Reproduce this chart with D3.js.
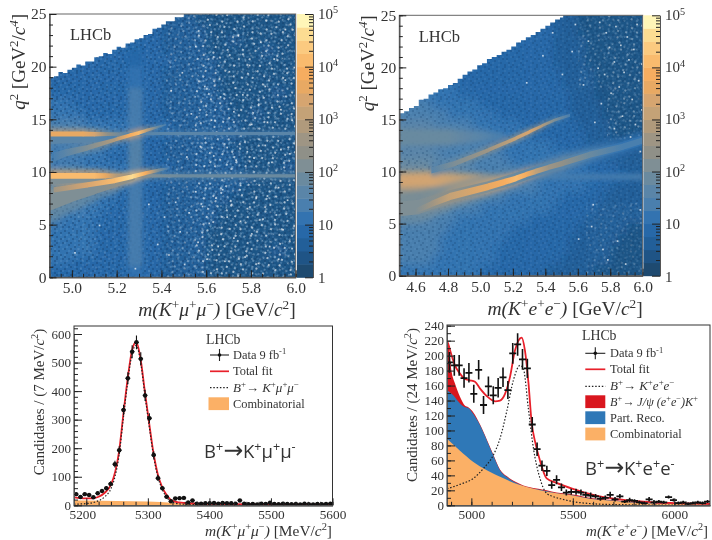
<!DOCTYPE html>
<html><head><meta charset="utf-8">
<script src="https://cdn.jsdelivr.net/npm/d3@7"></script>
<style>
html,body{margin:0;padding:0;background:#fff}
svg{display:block;filter:blur(0.4px)}
text{fill:#333;font-family:"Liberation Serif",serif}
.minor text{display:none}
</style></head><body><svg id="c" width="712" height="540"></svg>
<script>
// ---------- colour palette of the z axis (one band per quarter decade)
const zBandColours=["#1e4a70","#1f5486","#225f99","#2768a8","#3373b0","#4a7fae","#5a85a8","#6a8a9f","#7f8f95","#8f9088","#9e9584","#b09a7c","#c4a277","#d6a570","#e8a963","#f6ad60","#f9bb6e","#fbca80","#fcdc92","#fff6b8"];
const zTicks=[1,10,100,1000,10000,100000];
const zLabels=["1","10","10|2","10|3","10|4","10|5"];
// ---------- bin-to-bin grain of the maps: d darker bin, l lighter bin
const grainTile=["d..l.d...l..d.l.","..d...l.d...d..d",".l..d....l.d..l.","d...l.d.d...l...","..d...d..l.d..d.",".l.d.l....d...l.","d.....d.l...d...","..l.d...d.l...dl",".d...l.d...d.l..","l..d.....l..d..d","..d..l.d...d..l.",".l...d...l...d..","d..d...l.d.l...l","..l..d.....d.d..",".d..l..d.l...l..","l...d.l...d...d."];
// x full empty bin, y bin with low count
const emptyTile=["......y.........x...y...","..x.........y.........y.","y.....x...........x.....","....y.......x...y.......",".x.......y..........x...","......x.........y.....y.","..y.........x...........","..........y.....x..y....","x....y.............x....","........x....y........y.","...y.......x.......y....",".y......y........x......","......x.....y........x..","..x...........y.........","y.........x.......y.....",".....y...........x....y.","...x....y...x...........","..........y.........x...","y....x............y.....","........y...x.....x...y.","..y...........y.........",".......x.....y.....x....","....y......x...........y",".x.........y....y.......",];
// ---------- top-left map: m(K mu mu) vs q2
const muMassTicks=[5.0,5.2,5.4,5.6,5.8,6.0];
const muEdgeMass=[[4.9,19],[4.92,19.1],[4.94,19.5],[4.96,19.4],[4.98,19.7],[5.0,19.9],[5.02,20.2],[5.04,20.1],[5.06,20.5],[5.08,20.5],[5.1,20.9],[5.12,21],[5.14,21.3],[5.16,21.2],[5.18,21.6],[5.2,21.9],[5.22,21.8],[5.24,22.2],[5.26,22.3],[5.28,22.6],[5.3,22.7],[5.32,23],[5.34,23.1],[5.36,23.6],[5.38,23.7],[5.4,24],[5.42,24.3],[5.44,24.3],[5.46,24.7],[5.48,24.7],[5.5,25],[6,25]];
const muBase=[
"3333333333222111111111","3333333333222211111111","3333333333222211211111","3333333333222211111211","3333333333322221111111",
"3333333333222221111111","3333333333222221111111","3333333333222221111121","4433333333222222111111","4443333333222222112111",
"5554444433322222211111","6555544433322222211111","5555544333222222111111","5444433333222222211111","5554444433322222211112",
"6655554443322222221111","7766554333222222211111","7765443333222222111111","6554433333222221111111","5444333333222221111111",
"4444333333222211111111","4444333333222211111111","4444333333222211111121","4433333333222211111111","3333333333222211111111"];
const muStrip=[[0,1,4],[1,9,5],[9,14,6],[14,18,5],[18,20,4],[20,21.5,3]];
const muSpeckleZones=[[5.55,6,0,25,.75],[5.42,5.55,0,25,.4],[5.0,5.42,0,7,.1],[4.9,5.42,14,25,.07]];
const muRidgeLowGlow=[[4.9,7.3,8,1.0],[5.0,7.9,8,.75],[5.1,8.4,8,.55],[5.2,8.95,9,.35],[5.28,9.5,9,.25]];
const muRidgeLow=[[4.92,8.3,10,.25],[5.07,8.77,13,.25],[5.19,9.18,16,.25],[5.27,9.56,18,.22],[5.33,9.9,15,.18],[5.385,10.15,8,.15],[5.43,10.35,5,.1]];
const muRidgeUp=[[4.92,11.4,5,.45],[4.97,11.8,6,.35],[5.07,12.3,8,.25],[5.19,13.05,11,.18],[5.26,13.5,15,.18],[5.3,13.72,16,.18],[5.33,13.93,12,.16],[5.38,14.25,7,.12],[5.42,14.5,5,.08]];
const muJpsi=[[4.9,9.63,16,.27],[5.1,9.63,16,.27],[5.15,9.63,14,.25],[5.2,9.63,11,.2],[5.3,9.63,9,.17],[5.36,9.63,8,.16],[5.5,9.63,7,.16],[6,9.63,7,.16]];
const muPsi2S=[[4.9,13.6,14,.24],[5.05,13.6,14,.24],[5.1,13.58,13,.22],[5.16,13.6,9,.18],[5.25,13.6,6,.14],[5.4,13.65,6,.14],[6,13.65,6,.14]];
const muFaint=[[4.9,13.1,6,.45],[5.1,13.15,6,.3],[5.2,13.2,5,.2]];
const muFaintLow=[[4.9,9.1,8,.3],[5.1,9.25,8,.2],[5.2,9.4,7,.12]];
const muEmpty=[5.01,2.4,5.12,5,5.28,0.9,5.34,7,5.38,3.2,5.41,5.8,5.43,2.2,5.44,17.8,5.46,7.2,5.48,4.4,5.49,19.5,5.5,1.3,5.51,11.5,5.52,6.2,5.53,15.6,5.55,8.2,5.55,22,5.56,3.4,5.57,12.5,5.58,6.8,5.59,18.2,5.6,1.8,5.61,5.2,5.62,15,5.63,11.6,5.63,21,5.64,7.6,5.65,3,5.66,17.2,5.67,8.4,5.68,1.6,5.69,5.8,5.69,12.4,5.7,19.6,5.71,7,5.72,3.8,5.72,15.8,5.73,11.2,5.74,23,5.75,8.8,5.75,5.4,5.76,17.4,5.77,2,5.78,12,5.78,6.6,5.79,20.2,5.8,14.6,5.8,4.2,5.81,11.4,5.82,7.6,5.83,16.4,5.83,1.4,5.84,22.4,5.85,5.6,5.86,18.2,5.86,12.6,5.87,14.8,5.87,7.8,5.88,3,5.89,11,5.89,16.2,5.9,20.8,5.91,6,5.92,8.6,5.92,1.8,5.93,16,5.93,12.2,5.94,4.6,5.95,18.8,5.95,23.6,5.96,7.4,5.97,11.8,5.98,15,5.98,2.8,5.99,20];
// ---------- top-right map: m(K e e) vs q2
const eeMassTicks=[4.6,4.8,5.0,5.2,5.4,5.6,5.8,6.0];
const eeEdgeMass=[[4.5,15.6],[4.53,15.8],[4.56,16.1],[4.59,16.3],[4.62,16.9],[4.65,17],[4.68,17.4],[4.71,17.6],[4.74,17.9],[4.77,18],[4.8,18.3],[4.83,18.5],[4.86,18.9],[4.89,19.3],[4.92,19.6],[4.95,19.8],[4.98,20.2],[5.01,20.4],[5.04,20.8],[5.07,21],[5.1,21.2],[5.13,21.5],[5.16,21.7],[5.19,22],[5.22,22.4],[5.25,22.6],[5.28,22.9],[5.31,23.1],[5.34,23.4],[5.37,23.7],[5.4,24],[5.43,24.3],[5.46,24.6],[5.49,24.8],[5.51,25],[6,25]];
const eeBase=[
"444433333333333333322211111111","444433333333333333322211111111","444433333333333333322221111111","444443333333333333322221111111","444443333333333333322221111111",
"444443333333333333332222111111","444444433333333333332222111111","444444433333333333333222111111","555544444433333333333222211111","555555444444333333333222211111",
"666655555444444333333322221111","666666655554444433333332221111","666655555555444444433332222111","666665555555544444444333322222","777766666555554444444443333222",
"888877766655555554444444333322","888877766655555554444443332222","888877665555544444443333322222","777766555544444444433333222222","666655544444444433333332222222",
"555555444444443333333322222211","555554444444433333333222222111","555554444444333333333222221111","555544444444333333332222221111","444444444433333333222222111111"];
const eeSpeckleZones=[[5.78,6,13,25,.4],[5.6,5.78,18,25,.3],[5.65,6,0,7,.22]];
const eeRidgeLowGlow=[[4.5,6.4,8,.7],[4.62,6.6,8,.7],[4.81,7.6,9,.6],[5.05,8.55,8,.55],[5.22,9.35,7,.55],[5.34,10,6,.5],[5.51,10.8,6,.5],[5.67,11.6,5,.45],[5.88,12.4,4,.45],[6,13,4,.45]];
const eeRidgeLow=[[4.6,6.2,8,.25],[4.7,6.9,10,.3],[4.81,7.6,12,.35],[5.05,8.55,14,.33],[5.15,9,15,.3],[5.22,9.35,16,.28],[5.28,9.7,15,.26],[5.34,10,12,.26],[5.42,10.4,10,.26],[5.51,10.8,9,.28],[5.67,11.6,7,.3],[5.88,12.4,5,.3],[6,13,5,.3]];
const eeRidgeUp=[[4.7,10.1,6,.3],[4.85,10.8,8,.25],[5.05,12.07,10,.2],[5.22,13.2,12,.18],[5.3,13.8,13,.16],[5.38,14.4,11,.14],[5.45,14.9,8,.14],[5.55,15.4,5,.14]];
const eeJpsi=[[4.5,9.1,13,.62],[4.7,9.2,13,.6],[4.9,9.15,12,.52],[5.05,9.2,12,.42],[5.14,9.35,11,.28],[5.2,9.5,7,.2],[5.5,9.5,5,.2],[6,9.5,5,.25]];
const eeWedge=[[4.5,7.2,9,1.1],[4.65,7.6,9,.9],[4.8,8.1,8,.5],[5,8.2,7,.25]];
const eePsi2S=[[4.5,13.3,7,.8],[4.8,13.3,7,.7],[5.0,13.35,6,.5],[5.15,13.4,5,.3]];
const eeEmpty=[5.28,18.6,5.38,21.2,5.44,23.4,5.5,19.4,5.56,21.6,5.58,24.2,5.6,3.6,5.63,18.4,5.66,22.6,5.68,4.8,5.69,6.9,5.7,14.8,5.72,20,5.73,24.4,5.74,16.6,5.75,2.6,5.76,19.4,5.77,23.4,5.78,1.6,5.79,22,5.8,17.6,5.82,14.2,5.82,20.6,5.83,24,5.84,3.4,5.85,18.2,5.86,22.2,5.87,15.4,5.88,19.6,5.89,1.2,5.9,23,5.91,20.8,5.92,13.4,5.93,17,5.94,21.8,5.95,14.6,5.96,24.2,5.97,18.8,5.98,12,5.98,6.4,5.99,16,5.99,20.4];
// ---------- bottom-left fit
const bmMass=[5183.5,5190.5,5197.5,5204.5,5211.5,5218.5,5225.5,5232.5,5239.5,5246.5,5253.5,5260.5,5267.5,5274.5,5281.5,5288.5,5295.5,5302.5,5309.5,5316.5,5323.5,5330.5,5337.5,5344.5,5351.5,5358.5,5365.5,5372.5,5379.5,5386.5,5393.5,5400.5,5407.5,5414.5,5421.5,5428.5,5435.5,5442.5,5449.5,5456.5,5463.5,5470.5,5477.5,5484.5,5491.5,5498.5,5505.5,5512.5,5519.5,5526.5,5533.5,5540.5,5547.5,5554.5,5561.5,5568.5,5575.5,5582.5,5589.5,5596.5];
const bmCounts=[39,29,39,36,28,42,50,60,75,144,193,334,445,538,571,513,385,305,176,95,60,30,14,24,25,26,10,17,6,6,7,7,8,6,8,7,7,6,17,6,4,5,3,6,5,9,5,4,6,5,4,5,3,6,4,3,5,4,5,6];
const bmErrors=[6,5,6,6,5,6,7,8,9,12,14,18,21,23,24,23,20,17,13,10,8,5,4,5,5,5,3,4,2,2,3,3,3,2,3,3,3,2,4,2,2,2,2,2,2,3,2,2,2,2,2,2,2,2,2,2,2,2,2,2];
const bmTotalMass=[5180,5190,5200,5210,5220,5230,5240,5247,5253,5260,5267,5274,5281,5288,5295,5302,5309,5316,5323,5330,5337,5344,5351,5360,5380,5400,5500,5600];
const bmTotal=[28,25,24,24,30,44,72,118,185,315,440,540,572,515,400,290,185,110,65,38,20,13,10,8,6,5,3,2];
const bmSignalMass=[5180,5200,5215,5230,5240,5247,5253,5260,5267,5274,5281,5288,5295,5302,5309,5316,5323,5330,5337,5344,5351,5365,5400,5600];
const bmSignal=[4,6,12,30,58,104,172,302,428,528,560,505,390,280,176,102,58,30,14,8,5,3,1,0];
const bmCombMass=[5180,5200,5250,5300,5340,5370,5400,5500,5600];
const bmComb=[18,17,15,13,9,6,3,2,1];
// ---------- bottom-right fit
const beMass=[4892,4916,4940,4964,4988,5012,5036,5060,5084,5108,5132,5156,5180,5204,5228,5252,5276,5300,5324,5348,5372,5396,5420,5444,5468,5492,5516,5540,5564,5588,5612,5636,5660,5684,5708,5732,5756,5780,5804,5828,5852,5876,5900,5924,5948,5972,5996,6020,6044,6068,6092,6116,6140,6164];
const beCounts=[191,187,187,170,177,149,181,134,159,147,157,171,154,203,215,195,183,108,75,53,46,27,34,24,17,18,18,17,14,13,12,9,10,14,8,12,5,7,6,4,3,8,4,5,4,11,7,3,4,2,3,4,3,5];
const beErrors=[14,14,14,13,13,12,13,12,13,12,13,13,12,14,15,14,13,10,9,7,7,5,6,5,4,4,4,4,4,4,3,3,3,4,3,3,2,3,2,2,2,3,3,2,2,2,2,2,2,2,2,2,2,2];
const beTotalMass=[4880,4888,4903,4919,4944,4967,4993,5018,5043,5076,5117,5141,5166,5190,5215,5232,5248,5264,5281,5297,5314,5338,5371,5420,5500,5600,5700,5800,5900,6000,6176];
const beTotal=[220,214,200,187,176,169,167,165,156,146,139,140,149,171,207,220,224,207,165,111,85,60,36,30,22,14,9,6,4,3,2];
const beSignalMass=[4880,4944,5010,5059,5108,5141,5174,5207,5240,5256,5281,5306,5338,5371,5400,5450,5500,5600,5700,6176];
const beSignal=[22,28,36,49,67,89,125,167,187,183,129,76,36,16,12,8,5,2,1,0];
const beCombMass=[4880,4944,5010,5076,5158,5240,5371,5500,5600,5700,5800,5900,6000,6176];
const beComb=[89,73,58,47,36,27,18,13,8,6,3.5,2.5,2,1];
const beRecoMass=[4880,4911,4944,4969,4985,5010,5043,5076,5108,5141,5174,5240,5371,5420,5500,5600,5700,5800,5900,6000,6176];
const beReco=[154,147,136,131,130,122,107,87,67,47,38,27.5,19,16,13.5,8.5,6.3,3.8,2.8,2.2,1.2];
const beRedMass=[4880,4888,4903,4919,4944,4969,4985,5010,5043,5076,5108,5141,5174,5240,5371,5420,5500,5600,5700,5800,5900,6000,6176];
const beRed=[222,214,178,163,145,133,131,124,108,88,68,48,39,28.5,20,17,14.5,9.5,7,4.5,3.5,2.8,1.8];

const svg=d3.select("#c");
let uid=0;
function rich(t,parts,size){
  let back=0;
  parts.forEach(([s,f])=>{
    const ts=t.append("tspan").text(s);
    const shift=f&&f.includes("s")?-size*.38:0;
    ts.attr("dy",shift-back);back=shift;
    ts.attr("font-size",shift?size*.68:size);
    if(f&&f.includes("i"))ts.attr("font-style","italic");
    if(f&&f.includes("a"))ts.attr("font-size",size*1.28).style("font-family","'DejaVu Sans',sans-serif");
  });
  return t;
}
function styleAxis(g){g.selectAll("path").attr("stroke","#555");g.selectAll("line").attr("stroke","#222");}
function pairs(flat){return d3.range(0,flat.length,2).map(i=>[flat[i],flat[i+1]]);}
function tilePattern(defs,id,rows,cell,fills,turn){
  const n=rows.length,m=rows[0].length;
  const p=defs.append("pattern").attr("id",id).attr("patternUnits","userSpaceOnUse").attr("width",m*cell).attr("height",n*cell);
  if(turn)p.attr("patternTransform",`rotate(${turn})`);
  rows.forEach((r,j)=>r.split("").forEach((c,i)=>{
    if(fills[c])p.append("rect").attr("x",i*cell).attr("y",j*cell).attr("width",cell).attr("height",cell).attr("fill",fills[c][0]).attr("opacity",fills[c][1]);
  }));
}

function heatMap(o){
  const x=d3.scaleLinear().domain(o.massDomain).range([o.l,o.r]);
  const y=d3.scaleLinear().domain([0,25]).range([o.b,o.t]);
  const colour=d=>zBandColours[Math.max(0,Math.min(19,Math.round(d)))];
  const root=svg.append("g");
  const cid="clip"+(++uid),fid="blur"+uid,fidG="blurg"+uid,fid2="blurb"+uid;
  const defs=root.append("defs");
  const area=d3.area().x(d=>x(d[0])).y0(o.b).y1(d=>y(d[1])).curve(d3.curveStepAfter);
  defs.append("clipPath").attr("id",cid).append("path").attr("d",area(o.edge));
  const blurDef=(id,s)=>defs.append("filter").attr("id",id).attr("filterUnits","userSpaceOnUse").attr("x",o.l-30).attr("y",o.t-30).attr("width",o.r-o.l+60).attr("height",o.b-o.t+60).append("feGaussianBlur").attr("stdDeviation",s);
  blurDef(fid,5);blurDef(fidG,2.2);blurDef(fid2,.75);
  const grainId="grain"+uid,emptyId="empty"+uid,emptyId2="emptyb"+uid;
  tilePattern(defs,grainId,grainTile,2,{d:["#0f3560",.32],l:["#7fb0dc",.16]});
  tilePattern(defs,emptyId,emptyTile,2,{x:["#fff",.8],y:["#bcd6ee",.4]},23);
  tilePattern(defs,emptyId2,emptyTile,1.6,{x:["#dce9f5",.6],y:["#9cc0e2",.3]},-38);
  const plot=root.append("g").attr("clip-path",`url(#${cid})`);
  const base=plot.append("g").attr("filter",`url(#${fid})`);
  const rows=o.base,step=0.05;
  rows.forEach((row,ri)=>{
    const q=24-ri;
    row.split("").forEach((c,ci)=>{
      const m=o.massDomain[0]+ci*step;
      const pl=ci==0?25:0,pr=ci==row.length-1?25:0,pt=ri==0?25:0,pb=ri==rows.length-1?25:0;
      base.append("rect").attr("x",x(m)-pl).attr("y",y(q+1)-pt)
        .attr("width",x(m+step)-x(m)+pl+pr+.6).attr("height",y(q)-y(q+1)+pt+pb+.6)
        .attr("fill",colour(+c));
    });
  });
  plot.append("rect").attr("x",o.l).attr("y",o.t).attr("width",o.r-o.l).attr("height",o.b-o.t).attr("fill",`url(#${grainId})`).attr("opacity",o.grain);
  // sparse bins where the count falls to zero
  o.zones.forEach(([m0,m1,q0,q1,op])=>{
    [emptyId,emptyId2].forEach(id=>plot.append("rect").attr("x",x(m0)).attr("width",x(m1)-x(m0)).attr("y",y(q1)).attr("height",y(q0)-y(q1)).attr("fill",`url(#${id})`).attr("opacity",op));
  });
  const glow=plot.append("g").attr("filter",`url(#${fidG})`);
  const marks=plot.append("g").attr("filter",`url(#${fid2})`);
  if(o.strip)o.strip.forEach(([a,b,l])=>{
    glow.append("rect").attr("x",x(5.252)).attr("width",x(5.315)-x(5.252))
      .attr("y",y(b)).attr("height",y(a)-y(b)).attr("fill",colour(l)).attr("opacity",.85);
  });
  const ridge=(layer,pts,k,op)=>{
    d3.pairs(pts).forEach(([p,q])=>{
      const gid="g"+(++uid);
      const g=defs.append("linearGradient").attr("id",gid).attr("gradientUnits","userSpaceOnUse")
        .attr("x1",x(p[0])).attr("x2",x(q[0])).attr("y1",0).attr("y2",0);
      g.append("stop").attr("offset",0).attr("stop-color",colour(k>1?p[2]-1:p[2]));
      g.append("stop").attr("offset",1).attr("stop-color",colour(k>1?q[2]-1:q[2]));
      layer.append("path").attr("fill",`url(#${gid})`).attr("opacity",op).attr("d",
        d3.line()([[x(p[0])-.3,y(p[1]+p[3]*k)],[x(q[0])+.3,y(q[1]+q[3]*k)],[x(q[0])+.3,y(q[1]-q[3]*k)],[x(p[0])-.3,y(p[1]-p[3]*k)]])+"Z");
    });
  };
  o.soft.forEach(r=>{ridge(glow,r,1.6,.5);ridge(glow,r,1,.9);});
  o.ridges.forEach(r=>{ridge(glow,r,2.2,.55);ridge(marks,r,1,1);});
  plot.append("g").selectAll("rect").data(pairs(o.empty)).join("rect")
    .attr("x",d=>x(d[0])).attr("y",d=>y(d[1])).attr("width",1.7).attr("height",1.7).attr("fill","#fff").attr("opacity",.7);
  // frame and axes
  root.append("rect").attr("x",o.l).attr("y",o.t).attr("width",o.r-o.l).attr("height",o.b-o.t).attr("fill","none").attr("stroke","#666").attr("stroke-width",1);
  const ax=root.append("g");
  ax.append("g").attr("transform",`translate(0,${o.b})`)
    .call(d3.axisBottom(x).tickValues(o.massTicks).tickFormat(d3.format(".1f")).tickSizeInner(-7).tickSizeOuter(0).tickPadding(5)).call(styleAxis)
    .attr("font-family",null).attr("font-size",15.5);
  ax.append("g").attr("class","minor").attr("transform",`translate(0,${o.b})`)
    .call(d3.axisBottom(x).ticks(o.minorCount).tickFormat("").tickSizeInner(-3.5).tickSizeOuter(0)).call(styleAxis);
  ax.append("g").attr("transform",`translate(${o.l},0)`)
    .call(d3.axisLeft(y).tickValues(d3.range(0,26,5)).tickSizeInner(-7).tickSizeOuter(0).tickPadding(3)).call(styleAxis)
    .attr("font-family",null).attr("font-size",o.yFont);
  ax.append("g").attr("class","minor").attr("transform",`translate(${o.l},0)`)
    .call(d3.axisLeft(y).tickValues(d3.range(0,26,1)).tickFormat("").tickSizeInner(-3.5).tickSizeOuter(0)).call(styleAxis);
  ax.selectAll(".tick text").attr("fill","#333");
  // titles
  rich(root.append("text").attr("transform",`translate(${o.yTitleX},${o.t}) rotate(-90)`).attr("text-anchor","end"),
    [["q","i"],["2","s"],[" [GeV",""],["2","s"],["/",""],["c","i"],["4","is"],["]",""]],o.yTitleSize);
  rich(root.append("text").attr("x",o.r).attr("y",o.xTitleY).attr("text-anchor","end"),o.xTitle,o.xTitleSize);
  root.append("text").attr("x",o.lhcbX).attr("y",o.lhcbY).attr("font-size",16.5).text("LHCb");
  // colour bar
  const z=d3.scaleLog().domain([1,1e5]).range([o.b,o.t]);
  const bar=root.append("g");
  zBandColours.forEach((c,i)=>{
    const v0=Math.pow(10,i/4),v1=Math.pow(10,(i+1)/4);
    bar.append("rect").attr("x",o.barL).attr("width",o.barR-o.barL).attr("y",z(v1)).attr("height",z(v0)-z(v1)+.5).attr("fill",c);
  });
  const barAx=d3.axisRight(z).tickValues(zTicks).tickFormat("").tickSizeInner(-8).tickSizeOuter(0);
  bar.append("g").attr("transform",`translate(${o.barR},0)`).call(barAx).call(styleAxis);
  const minorVals=[];zTicks.slice(0,5).forEach(t=>d3.range(2,10).forEach(k=>minorVals.push(t*k)));
  bar.append("g").attr("class","minor").attr("transform",`translate(${o.barR},0)`)
    .call(d3.axisRight(z).tickValues(minorVals).tickFormat("").tickSizeInner(-4).tickSizeOuter(0)).call(styleAxis);
  zLabels.forEach((s,i)=>{
    const [a,b]=s.split("|");
    const t=bar.append("text").attr("x",o.barR+5).attr("y",z(zTicks[i])+(i==0?6:5));
    rich(t,b?[[a,""],[b,"s"]]:[[a,""]],15);
  });
}

heatMap({massDomain:[4.9,6.0],l:49.5,r:295.7,t:14,b:277.3,edge:muEdgeMass,base:muBase,strip:muStrip,zones:muSpeckleZones,grain:1,soft:[],
  ridges:[muRidgeLowGlow,muFaint,muFaintLow,muPsi2S,muJpsi,muRidgeUp,muRidgeLow],empty:muEmpty,massTicks:muMassTicks,minorCount:22,
  yFont:15.5,yTitleX:25,yTitleSize:19,xTitleY:316,xTitleSize:19.5,lhcbX:70,lhcbY:40,barL:297,barR:313,
  xTitle:[["m(K","i"],["+","s"],["μ","i"],["+","s"],["μ","i"],["−","s"],[")","i"],[" [GeV/",""],["c","i"],["2","s"],["]",""]]});
heatMap({massDomain:[4.5,6.0],l:399.3,r:642.7,t:15.3,b:275.7,edge:eeEdgeMass,base:eeBase,strip:null,zones:eeSpeckleZones,grain:.65,soft:[eePsi2S,eeWedge,eeJpsi],
  ridges:[eeRidgeLowGlow,eeRidgeUp,eeRidgeLow],empty:eeEmpty,massTicks:eeMassTicks,minorCount:30,
  yFont:15.5,yTitleX:374,yTitleSize:19,xTitleY:315,xTitleSize:19.5,lhcbX:418.7,lhcbY:41.7,barL:643.5,barR:660,
  xTitle:[["m(K","i"],["+","s"],["e","i"],["+","s"],["e","i"],["−","s"],[")","i"],[" [GeV/",""],["c","i"],["2","s"],["]",""]]});

function legendLabel(g,x,y,parts,size){rich(g.append("text").attr("x",x).attr("y",y),parts,size);}
function decay(g,x,y,parts,size){
  const t=g.append("text").attr("x",x).attr("y",y).style("font-family","'Open Sans','Noto Sans',sans-serif");
  rich(t,parts,size);
}
function fitPanel(o){
  const x=d3.scaleLinear().domain(o.xDomain).range([o.l,o.r]);
  const y=d3.scaleLinear().domain(o.yDomain).range([o.y0,o.yTop]);
  const root=svg.append("g");
  const cid="clip"+(++uid);
  root.append("defs").append("clipPath").attr("id",cid).append("rect").attr("x",o.l).attr("y",o.frameTop).attr("width",o.r-o.l).attr("height",o.y0-o.frameTop);
  const plot=root.append("g").attr("clip-path",`url(#${cid})`);
  const areaOf=(m,v)=>d3.area().x((_,i)=>x(m[i])).y0(o.y0).y1(d=>y(d)).curve(d3.curveMonotoneX)(v);
  const lineOf=(m,v)=>d3.line().x((_,i)=>x(m[i])).y(d=>y(d)).curve(d3.curveMonotoneX)(v);
  o.areas.forEach(a=>plot.append("path").attr("d",areaOf(a.m,a.v)).attr("fill",a.c));
  plot.append("path").attr("d",lineOf(o.totalM,o.total)).attr("fill","none").attr("stroke","#e8202a").attr("stroke-width",1.8);
  plot.append("path").attr("d",lineOf(o.sigM,o.sig)).attr("fill","none").attr("stroke","#222").attr("stroke-width",1.2).attr("stroke-dasharray","1.5 1.8");
  const pts=plot.append("g").selectAll("g").data(o.m).join("g");
  pts.append("line").attr("x1",d=>x(d)).attr("x2",d=>x(d)).attr("y1",(d,i)=>y(o.n[i]-o.e[i])).attr("y2",(d,i)=>y(o.n[i]+o.e[i])).attr("stroke","#111").attr("stroke-width",o.lw);
  pts.append("line").attr("x1",d=>x(d)-o.cap/2).attr("x2",d=>x(d)+o.cap/2).attr("y1",(d,i)=>y(o.n[i])).attr("y2",(d,i)=>y(o.n[i])).attr("stroke","#111").attr("stroke-width",o.lw+.2);
  pts.append("circle").attr("cx",d=>x(d)).attr("cy",(d,i)=>y(o.n[i])).attr("r",o.dot).attr("fill","#111");
  root.append("rect").attr("x",o.l).attr("y",o.frameTop).attr("width",o.r-o.l).attr("height",o.y0+.5-o.frameTop).attr("fill","none").attr("stroke","#333").attr("stroke-width",1);
  const xg=root.append("g").attr("transform",`translate(0,${o.y0})`);
  xg.call(d3.axisBottom(x).tickValues(o.xTicks).tickFormat(d3.format("d")).tickSizeInner(-7).tickSizeOuter(0).tickPadding(4.5)).call(styleAxis).attr("font-family",null).attr("font-size",13.3);
  xg.selectAll(".tick text").attr("fill","#333");
  if(o.firstDx)xg.select(".tick text").attr("dx",o.firstDx);
  root.append("g").attr("class","minor").attr("transform",`translate(0,${o.y0})`)
    .call(d3.axisBottom(x).tickValues(o.xMinor).tickFormat("").tickSizeInner(-3.5).tickSizeOuter(0)).call(styleAxis);
  const yg=root.append("g").attr("transform",`translate(${o.l},0)`);
  yg.call(d3.axisLeft(y).tickValues(o.yTicks).tickSizeInner(-8).tickSizeOuter(0).tickPadding(3)).call(styleAxis).attr("font-family",null).attr("font-size",13);
  yg.selectAll(".tick text").attr("fill","#333");
  root.append("g").attr("class","minor").attr("transform",`translate(${o.l},0)`)
    .call(d3.axisLeft(y).tickValues(o.yMinor).tickFormat("").tickSizeInner(-4).tickSizeOuter(0)).call(styleAxis);
  rich(root.append("text").attr("transform",`translate(${o.yTitleX},${o.yTitleC}) rotate(-90)`).attr("text-anchor","middle"),o.yTitle,15);
  rich(root.append("text").attr("x",o.xTitleR).attr("y",o.xTitleY).attr("text-anchor","end"),o.xTitle,o.xTitleSize);
  // legend
  const L=o.legend,g=root.append("g");
  g.append("text").attr("x",L.x).attr("y",L.titleY).attr("font-size",13.8).text("LHCb");
  L.rows.forEach(r=>{
    if(r.kind=="data"){
      g.append("line").attr("x1",L.x1).attr("x2",L.x2).attr("y1",r.y).attr("y2",r.y).attr("stroke","#222").attr("stroke-width",1.1);
      g.append("line").attr("x1",(L.x1+L.x2)/2).attr("x2",(L.x1+L.x2)/2).attr("y1",r.y-6).attr("y2",r.y+6).attr("stroke","#222").attr("stroke-width",1.1);
      g.append("circle").attr("cx",(L.x1+L.x2)/2).attr("cy",r.y).attr("r",1.8).attr("fill","#111");
    }else if(r.kind=="line"){
      g.append("line").attr("x1",L.x1).attr("x2",L.x2).attr("y1",r.y).attr("y2",r.y).attr("stroke","#e8202a").attr("stroke-width",1.7);
    }else if(r.kind=="dots"){
      g.append("line").attr("x1",L.x1).attr("x2",L.x2).attr("y1",r.y).attr("y2",r.y).attr("stroke","#222").attr("stroke-width",1.2).attr("stroke-dasharray","1.5 1.8");
    }else{
      g.append("rect").attr("x",L.x1-(r.pad||0)).attr("y",r.y-6.4).attr("width",L.x2-L.x1+(r.pad||0)).attr("height",12.8).attr("fill",r.c);
    }
    legendLabel(g,L.tx,r.y+4,r.parts,r.size||12.4);
  });
  decay(g,L.decayX,L.decayY,o.decay,L.decaySize);
}
const data9=[["Data 9 fb",""],["-1","s"]];
fitPanel({xDomain:[5180,5600],yDomain:[0,600],l:74,r:332.5,y0:505.3,yTop:334,frameTop:326,
  m:bmMass,n:bmCounts,e:bmErrors,cap:4.6,lw:1.1,dot:2.2,firstDx:-4,xTitleSize:15.4,
  areas:[{m:bmCombMass,v:bmComb,c:"#fbb066"}],totalM:bmTotalMass,total:bmTotal,sigM:bmSignalMass,sig:bmSignal,
  xTicks:[5200,5300,5400,5500,5600],xMinor:d3.range(5180,5601,20),yTicks:[0,100,200,300,400,500,600],yMinor:d3.range(0,621,20),
  yTitleX:44,yTitleC:402,xTitleR:332,xTitleY:536,
  yTitle:[["Candidates / (7 MeV/",""],["c","i"],["2","s"],[")",""]],
  xTitle:[["m(K","i"],["+","s"],["μ","i"],["+","s"],["μ","i"],["−","s"],[")","i"],[" [MeV/",""],["c","i"],["2","s"],["]",""]],
  decay:[["B",""],["+","s"],["→","a"],["K",""],["+","s"],["μ",""],["+","s"],["μ",""],["-","s"]],
  legend:{x:206,titleY:344,x1:210,x2:229,tx:233,decayX:204,decayY:458,decaySize:18.5,rows:[
    {kind:"data",y:355,parts:data9},{kind:"line",y:371.3,parts:[["Total fit",""]]},
    {kind:"dots",y:387.7,size:13,parts:[["B","i"],["+","s"],["→ K","i"],["+","s"],["μ","i"],["+","s"],["μ","i"],["−","s"]]},
    {kind:"swatch",y:403.7,c:"#fbb066",pad:1.5,parts:[["Combinatorial",""]]}]}
});
fitPanel({xDomain:[4880,6176],yDomain:[0,240],l:447,r:710,y0:505.3,yTop:325.7,frameTop:325,
  m:beMass,n:beCounts,e:beErrors,cap:7,lw:1.6,dot:.9,xTitleSize:15,
  areas:[{m:beRedMass,v:beRed,c:"#d9161e"},{m:beRecoMass,v:beReco,c:"#2f78b7"},{m:beCombMass,v:beComb,c:"#fbb066"}],
  totalM:beTotalMass,total:beTotal,sigM:beSignalMass,sig:beSignal,
  xTicks:[5000,5500,6000],xMinor:d3.range(4900,6176,100),yTicks:d3.range(0,241,20),yMinor:d3.range(0,241,10),
  yTitleX:417,yTitleC:405,xTitleR:708,xTitleY:536,
  yTitle:[["Candidates / (24 MeV/",""],["c","i"],["2","s"],[")",""]],
  xTitle:[["m(K","i"],["+","s"],["e","i"],["+","s"],["e","i"],["−","s"],[")","i"],[" [MeV/",""],["c","i"],["2","s"],["]",""]],
  decay:[["B",""],["+","s"],["→","a"],["K",""],["+","s"],["e",""],["+","s"],["e",""],["-","s"]],
  legend:{x:582,titleY:340,x1:585.3,x2:605.3,tx:610,decayX:585,decayY:475,decaySize:18.5,rows:[
    {kind:"data",y:353.3,parts:data9},{kind:"line",y:369.3,parts:[["Total fit",""]]},
    {kind:"dots",y:386.3,size:13,parts:[["B","i"],["+","s"],["→ K","i"],["+","s"],["e","i"],["+","s"],["e","i"],["−","s"]]},
    {kind:"swatch",y:401.7,c:"#d9161e",parts:[["B","i"],["+","s"],["→ J/ψ (e","i"],["+","s"],["e","i"],["−","s"],[")K","i"],["+","s"]],size:12.2},
    {kind:"swatch",y:417.7,c:"#2f78b7",parts:[["Part. Reco.",""]]},
    {kind:"swatch",y:434,c:"#fbb066",parts:[["Combinatorial",""]]}]}
});
</script></body></html>
